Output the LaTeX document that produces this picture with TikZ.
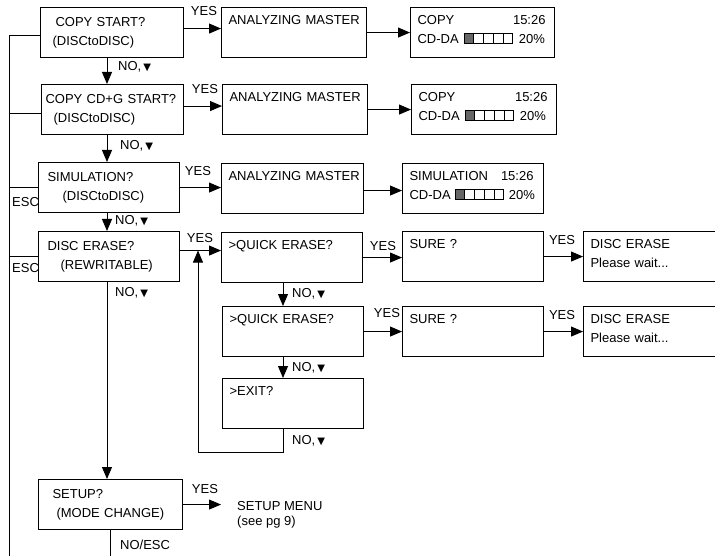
\documentclass[tikz,border=0pt]{standalone}
\usepackage{fontspec}
\setmainfont{Liberation Sans}
\newfontfamily\symfont{DejaVu Sans}
\usetikzlibrary{positioning, arrows.meta, calc}
\definecolor{bargray}{gray}{0.4}
\newcommand{\barcell}[1]{\fbox{\textcolor{#1}{\rule{9pt}{9pt}}}}
\newcommand{\pbar}{{\setlength{\fboxsep}{0pt}\setlength{\fboxrule}{0.7pt}\barcell{bargray}\kern-0.7pt\barcell{white}\kern-0.7pt\barcell{white}\kern-0.7pt\barcell{white}\kern-0.7pt\barcell{white}}}
\newcommand{\dn}{{\symfont\fontsize{10}{10}\selectfont ▼}}
\tikzset{
  menubox/.style={rectangle, draw=black, line width=1.1pt, minimum height=50pt, text width=#1, inner xsep=0pt, inner ysep=0pt, align=left, anchor=north west},
  screen/.style={rectangle, draw=black, line width=1.1pt, minimum height=50pt, text width=#1, inner xsep=7pt, inner ysep=0pt, text depth=26pt, align=left, anchor=north west},
  arrow/.style={line width=0.9pt, -{Triangle[length=12pt,width=10pt]}},
  wire/.style={line width=0.9pt},
  note/.style={inner sep=0pt, anchor=west}
}

\begin{document}
\begin{tikzpicture}[
    x=1pt, y=-1pt,
    every node/.style={font=\fontsize{13}{19}\selectfont}
]
    \useasboundingbox (0,0) rectangle (715,556);

    % main menu
    \node (copy) [menubox=143pt] at (40,7) {\hspace*{15pt}COPY START?\\\hspace*{12pt}(DISCtoDISC)};
    \node (copycdg) [menubox=142pt] at (41,84) {\hspace*{4pt}COPY CD+G START?\\\hspace*{12pt}(DISCtoDISC)};
    \node (sim) [menubox=141pt] at (38,162) {\hspace*{9pt}SIMULATION?\\\hspace*{24pt}(DISCtoDISC)};
    \node (erase) [menubox=141pt] at (38,231) {\hspace*{9pt}DISC ERASE?\\\hspace*{22pt}(REWRITABLE)};
    \node (setup) [menubox=144pt] at (38,479) {\hspace*{14pt}SETUP?\\\hspace*{18pt}(MODE CHANGE)};

    % screens
    \node (am1) [screen=131pt] at (221,7) {\mbox{ANALYZING MASTER}};
    \node (am2) [screen=131pt] at (222,84) {\mbox{ANALYZING MASTER}};
    \node (am3) [screen=128pt] at (221,163) {\mbox{ANALYZING MASTER}};
    \node (disp1) [screen=130pt] at (410,7) {COPY\hfill 15:26\kern2pt\\CD-DA\kern5pt\pbar\kern6pt 20\%};
    \node (disp2) [screen=131pt] at (411,84) {COPY\hfill 15:26\kern2pt\\CD-DA\kern5pt\pbar\kern6pt 20\%};
    \node (disp3) [screen=127pt] at (402,163) {SIMULATION\hfill 15:26\kern3pt\\CD-DA\kern4pt\pbar\kern5pt 20\%};

    \node (qe1) [screen=127pt] at (221,232) {>QUICK ERASE?};
    \node (qe2) [screen=127pt] at (222,306) {>QUICK ERASE?};
    \node (exit) [screen=127pt] at (222,378) {>EXIT?};
    \node (sure1) [screen=127pt] at (402,231) {SURE ?};
    \node (sure2) [screen=127pt] at (402,306) {SURE ?};
    \node (de1) [screen=126pt] at (583,231) {DISC ERASE\\Please wait...};
    \node (de2) [screen=126pt] at (583,306) {DISC ERASE\\Please wait...};

    \node (setupmenu) [note, align=left, font=\fontsize{13}{15}\selectfont] at (237,515) {SETUP MENU\\(see pg 9)};

    % helper points
    \coordinate (trunk) at (107,0);
    \coordinate (setupout) at (110,0);
    \coordinate (qtrunk) at (283,0);
    \coordinate (loopx) at (198,0);
    \coordinate (menuin) at (221,0);
    \coordinate (escbot) at (9,560);
    \coordinate (copyesc) at ([yshift=-3pt]copy.west);
    \coordinate (cdgesc) at ([yshift=-3.5pt]copycdg.west);
    \coordinate (copyyes) at ([yshift=4pt]copy.east);
    \coordinate (cdgyes) at ([yshift=3.5pt]copycdg.east);
    \coordinate (eraseyes) at ([yshift=6pt]erase.east);

    % NO path
    \draw [arrow] (copy.south -| trunk) -- (copycdg.north -| trunk);
    \draw [arrow] (copycdg.south -| trunk) -- (sim.north -| trunk);
    \draw [arrow] (sim.south -| trunk) -- (erase.north -| trunk);
    \draw [arrow] (erase.south -| trunk) -- (setup.north -| trunk);
    \draw [wire] (setup.south -| setupout) -- (escbot -| setupout);

    % ESC line
    \draw [wire] (copyesc) -| (escbot);
    \draw [wire] (cdgesc) -- (cdgesc -| escbot);
    \draw [wire] (sim.west) -- (sim.west -| escbot);
    \draw [wire] (erase.west) -- (erase.west -| escbot);

    % YES path
    \draw [arrow] (copyyes) -- (copyyes -| am1.west);
    \draw [arrow] (cdgyes) -- (cdgyes -| am2.west);
    \draw [arrow] (sim.east) -- (sim.east -| am3.west);
    \draw [arrow] (am1.east) -- (am1.east -| disp1.west);
    \draw [arrow] (am2.east) -- (am2.east -| disp2.west);
    \draw [arrow] ([yshift=-2pt]am3.east) -- ([yshift=-2pt]am3.east -| disp3.west);
    \draw [arrow] (eraseyes) -- (eraseyes -| qe1.west);
    \draw [arrow] (setup.east) -- (setup.east -| menuin);

    % erase menu
    \draw [arrow] (qe1.south -| qtrunk) -- (qe2.north -| qtrunk);
    \draw [arrow] (qe2.south -| qtrunk) -- (exit.north -| qtrunk);
    \draw [arrow] (exit.south -| qtrunk) -- ++(0,23) -| (eraseyes -| loopx);
    \draw [arrow] (qe1.east) -- (qe1.east -| sure1.west);
    \draw [arrow] (qe2.east) -- (qe2.east -| sure2.west);
    \draw [arrow] (sure1.east) -- (sure1.east -| de1.west);
    \draw [arrow] (sure2.east) -- (sure2.east -| de2.west);

    % labels
    \node (yes1) [inner sep=0pt] at (204,11) {YES};
    \node (yes2) [inner sep=0pt] at (205,89) {YES};
    \node (yes3) [inner sep=0pt] at (198,171) {YES};
    \node (yes4) [inner sep=0pt] at (200,238) {YES};
    \node (yes5) [inner sep=0pt] at (383,246) {YES};
    \node (yes6) [inner sep=0pt] at (387,313) {YES};
    \node (yes7) [inner sep=0pt] at (562,240) {YES};
    \node (yes8) [inner sep=0pt] at (562,315) {YES};
    \node (yes9) [inner sep=0pt] at (205,489) {YES};
    \node (no1) [note] at (118,67) {NO,\kern2pt\dn};
    \node (no2) [note] at (120,146) {NO,\kern2pt\dn};
    \node (no3) [note] at (115,221) {NO,\kern2pt\dn};
    \node (no4) [note] at (115,293) {NO,\kern2pt\dn};
    \node (no5) [note] at (292,294) {NO,\kern2pt\dn};
    \node (no6) [note] at (292,368) {NO,\kern2pt\dn};
    \node (no7) [note] at (292,441) {NO,\kern2pt\dn};
    \node (noesc) [note] at (120,545) {NO/ESC};
    \node (esc1) [note] at (12,202) {ESC};
    \node (esc2) [note] at (12,268) {ESC};
\end{tikzpicture}
\end{document}
